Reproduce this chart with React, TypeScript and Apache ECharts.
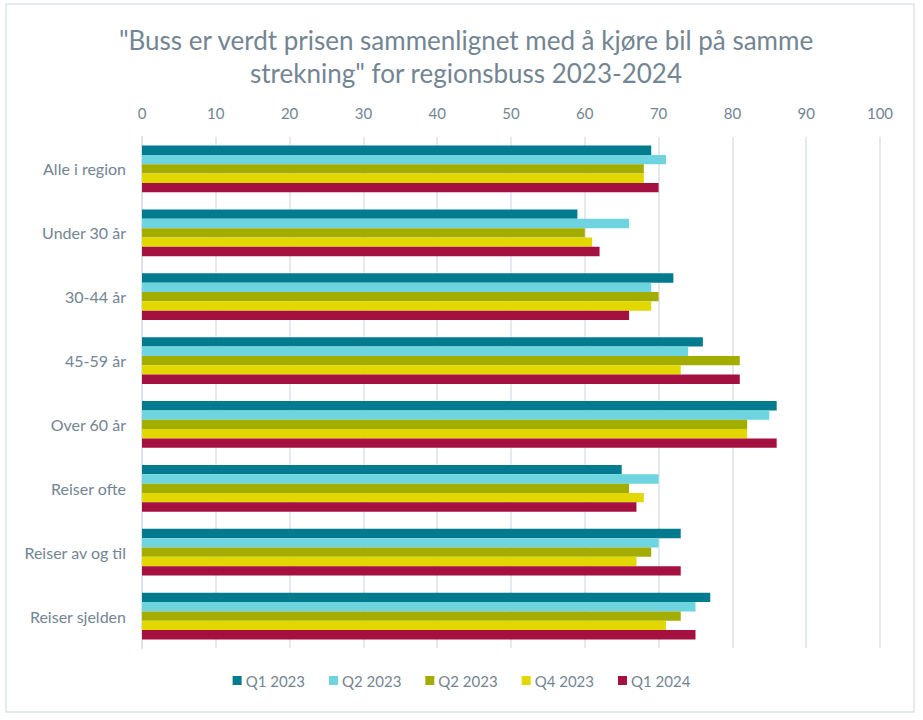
import React, { useEffect, useRef } from "react";
import * as echarts from "echarts";

const categories = [
  "Alle i region",
  "Under 30 år",
  "30-44 år",
  "45-59 år",
  "Over 60 år",
  "Reiser ofte",
  "Reiser av og til",
  "Reiser sjelden",
];

const seriesNames = ["Q1 2023", "Q2 2023", "Q2 2023 ", "Q4 2023", "Q1 2024"];
const legendLabels = ["Q1 2023", "Q2 2023", "Q2 2023", "Q4 2023", "Q1 2024"];

const q1_2023 = [69, 59, 72, 76, 86, 65, 73, 77];
const q2_2023 = [71, 66, 69, 74, 85, 70, 70, 75];
const q2_2023b = [68, 60, 70, 81, 82, 66, 69, 73];
const q4_2023 = [68, 61, 69, 73, 82, 68, 67, 71];
const q1_2024 = [70, 62, 66, 81, 86, 67, 73, 75];

const seriesValues = [q1_2023, q2_2023, q2_2023b, q4_2023, q1_2024];
const colors = ["#027B8F", "#6ED5E0", "#A3AD00", "#E2D800", "#A41140"];

const xTicks = { min: 0, max: 100, interval: 10 };

const textColor = "#738593";
const font = "Lato, 'Open Sans', sans-serif";

export default function App() {
  const ref = useRef<HTMLDivElement>(null);

  useEffect(() => {
    if (!ref.current) return;
    const chart = echarts.init(ref.current, null, { renderer: "svg" });
    chart.setOption({
      animation: false,
      backgroundColor: "#ffffff",
      textStyle: { fontFamily: font },
      title: {
        text: '"Buss er verdt prisen sammenlignet med å kjøre bil på samme\nstrekning" for regionsbuss 2023-2024',
        left: 461,
        top: 18,
        textAlign: "center",
        textStyle: {
          fontFamily: font,
          fontSize: 26,
          fontWeight: "normal",
          color: textColor,
          lineHeight: 33,
        },
      },
      legend: {
        bottom: 27,
        left: "center",
        itemWidth: 9,
        itemHeight: 9,
        itemGap: 24,
        icon: "rect",
        data: seriesNames,
        formatter: (name: string) => legendLabels[seriesNames.indexOf(name)],
        textStyle: { fontFamily: font, fontSize: 15, color: textColor, padding: [0, 0, 0, -1] },
      },
      grid: {
        left: 142,
        right: 43,
        top: 137,
        bottom: 72,
        containLabel: false,
      },
      xAxis: {
        type: "value",
        position: "top",
        min: xTicks.min,
        max: xTicks.max,
        interval: xTicks.interval,
        axisLine: { show: false },
        axisTick: { show: false },
        axisLabel: { color: textColor, fontSize: 15, fontFamily: font, margin: 17 },
        splitLine: { show: true, lineStyle: { color: "#DDE2E6", width: 1.5 } },
      },
      yAxis: {
        type: "category",
        inverse: true,
        data: categories,
        axisLine: { show: true, lineStyle: { color: "#DDE2E6", width: 2 } },
        axisTick: { show: false },
        axisLabel: { color: textColor, fontSize: 16, fontFamily: font, margin: 16 },
      },
      series: seriesValues.map((vals, i) => ({
        name: seriesNames[i],
        type: "bar",
        data: vals,
        itemStyle: { color: colors[i] },
        barGap: "0%",
        barCategoryGap: "27%",
      })),
      graphic: [
        {
          type: "rect",
          shape: { x: 6, y: 4, width: 908, height: 708 },
          style: { fill: "none", stroke: "#DDE3E8", lineWidth: 1.5 },
          silent: true,
        },
      ],
    });
    return () => chart.dispose();
  }, []);

  return (
    <div
      ref={ref}
      style={{ position: "absolute", left: 0, top: 0, width: 923, height: 720 }}
    />
  );
}
